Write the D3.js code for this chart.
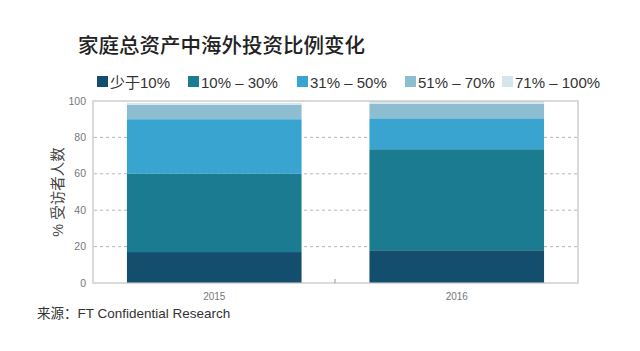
<!DOCTYPE html>
<html>
<head>
<meta charset="utf-8">
<script src="https://cdn.jsdelivr.net/npm/d3@7"></script>
<style>
body{margin:0;background:#fff;}
text{font-family:"Liberation Sans","Noto Sans CJK SC",sans-serif;}
</style>
</head>
<body>
<div id="Canvas"></div>
<script>
// 資料
const years = ["2015", "2016"]
const groups = ["少于10%", "10% – 30%", "31% – 50%", "51% – 70%", "71% – 100%"]
const colors = ["#134e6f", "#1a7b91", "#38a4cf", "#8cbdd1", "#d5e6eb"]
const v2015 = [17, 43, 30, 8, 1]
const v2016 = [18, 55.5, 17, 8, 1.5]
const yTicks = [0, 20, 40, 60, 80, 100]

let svg = d3.select("#Canvas")
    .append("svg")
    .attr("width", 640)
    .attr("height", 351)

let xScale = d3.scaleBand()
    .domain(years)
    .range([93, 578])
    .paddingInner(0.28)
    .paddingOuter(0.14)
let yScale = d3.scaleLinear()
    .domain([0, 100])
    .range([283, 101])

// 標題
svg.append("text")
    .attr("x", 78).attr("y", 53)
    .attr("font-size", 20.5)
    .attr("font-weight", 500)
    .attr("fill", "#222")
    .style("font-family", "'Noto Sans CJK SC'")
    .text("家庭总资产中海外投资比例变化")

// 圖例
const legendX = [97, 188, 297, 405, 502]
groups.forEach((g, i) => {
    svg.append("rect")
        .attr("x", legendX[i]).attr("y", 76)
        .attr("width", 11).attr("height", 11)
        .attr("fill", colors[i])
    svg.append("text")
        .attr("x", legendX[i] + 13).attr("y", 88)
        .attr("font-size", 15)
        .attr("fill", "#333")
        .text(g)
})

// 格線
svg.append("g")
    .selectAll("line")
    .data(yTicks.filter(d => d > 0 && d < 100))
    .enter()
    .append("line")
    .attr("x1", 94).attr("x2", 577)
    .attr("y1", d => yScale(d)).attr("y2", d => yScale(d))
    .attr("stroke", "#b5b5b5")
    .attr("stroke-dasharray", "3,3")

// 堆疊
let rows = years.map((y, i) => {
    let vals = i == 0 ? v2015 : v2016
    let r = {year: y}
    groups.forEach((g, j) => r[g] = vals[j])
    return r
})
let stacked = d3.stack().keys(groups)(rows)

svg.append("g")
    .selectAll("g")
    .data(stacked)
    .enter()
    .append("g")
    .attr("fill", (d, i) => colors[i])
    .selectAll("rect")
    .data(d => d)
    .enter()
    .append("rect")
    .attr("x", d => xScale(d.data.year))
    .attr("width", xScale.bandwidth())
    .attr("y", d => yScale(d[1]))
    .attr("height", d => yScale(d[0]) - yScale(d[1]))

// 外框
svg.append("rect")
    .attr("x", 93).attr("y", 101)
    .attr("width", 485).attr("height", 182)
    .attr("fill", "none")
    .attr("stroke", "#c2c2c2")
    .attr("stroke-width", 1.2)

// 中間刻度
svg.append("line")
    .attr("x1", 335).attr("x2", 335)
    .attr("y1", 283).attr("y2", 279)
    .attr("stroke", "#999")

// y軸文字
svg.append("g")
    .selectAll("text")
    .data(yTicks)
    .enter()
    .append("text")
    .attr("x", 86)
    .attr("y", d => yScale(d) + 3.5)
    .attr("text-anchor", "end")
    .attr("font-size", 10.5)
    .attr("fill", "#777")
    .text(d => d)

// x軸文字
svg.append("g")
    .selectAll("text")
    .data(years)
    .enter()
    .append("text")
    .attr("x", d => xScale(d) + xScale.bandwidth() / 2)
    .attr("y", 300)
    .attr("text-anchor", "middle")
    .attr("font-size", 10)
    .attr("fill", "#777")
    .text(d => d)

svg.append("text")
    .attr("transform", "translate(63,192) rotate(-90)")
    .attr("text-anchor", "middle")
    .attr("font-size", 14.5)
    .attr("fill", "#444")
    .text("% 受访者人数")

// 來源
svg.append("text")
    .attr("x", 37).attr("y", 318)
    .attr("font-size", 13.5)
    .attr("fill", "#333")
    .text("来源：FT Confidential Research")
</script>
</body>
</html>
